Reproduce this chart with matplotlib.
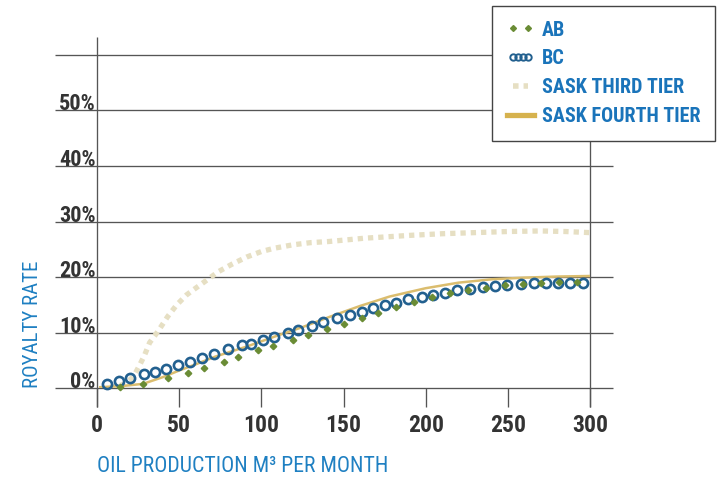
import matplotlib
matplotlib.use('Agg')
import matplotlib.pyplot as plt
import matplotlib.transforms as mtransforms
from matplotlib.lines import Line2D
from matplotlib.legend_handler import HandlerLine2D
from matplotlib import font_manager as fm

# ---------------- data ----------------
bc_x = [6, 13.5, 20, 28.5, 35, 42, 49.5, 56.6, 63.7, 71, 80, 88, 94, 101, 108, 116,
        122.5, 130.6, 137.7, 146, 154, 161, 168, 175, 182, 189.5, 197.6, 204.7, 211.8,
        219, 227, 235, 242, 249.6, 257.8, 266, 273, 280.8, 288, 296]
bc_y = [0.7, 1.4, 1.9, 2.6, 2.9, 3.5, 4.2, 4.8, 5.4, 6.2, 7.0, 7.7, 8.0, 8.6, 9.3, 10.0,
        10.5, 11.2, 12.0, 12.6, 13.2, 13.8, 14.4, 15.0, 15.4, 16.0, 16.4, 16.8, 17.2,
        17.6, 17.9, 18.2, 18.4, 18.6, 18.8, 18.9, 19.0, 19.0, 19.0, 19.0]

ab_x = [14, 28, 43, 55.6, 65, 77, 86, 98, 107, 119, 128.6, 140, 150, 161.5, 171,
        182, 193, 204, 215, 226, 237, 248, 259, 270, 281, 292]
ab_y = [0.3, 0.7, 1.8, 2.8, 3.6, 4.7, 5.7, 6.8, 7.6, 8.7, 9.6, 10.6, 11.5, 12.6, 13.5,
        14.6, 15.6, 16.4, 17.1, 17.7, 18.1, 18.5, 18.8, 19.0, 19.1, 19.2]

t3_x = [8, 14, 18, 21, 23.5, 26, 29, 32, 37, 43, 48.5, 54.5, 60, 67, 74, 82, 91, 100,
        108, 119, 130, 141, 152, 163, 174, 190, 210, 230, 250, 270, 285, 300]
t3_y = [0.2, 0.5, 1.0, 1.8, 2.8, 4.2, 6.0, 8.2, 10.2, 12.9, 15.0, 16.8, 18.0, 19.5,
        21.0, 22.3, 23.6, 24.6, 25.2, 25.8, 26.2, 26.4, 26.7, 27.0, 27.2, 27.5, 27.8,
        28.0, 28.2, 28.3, 28.2, 28.0]

t4_x = [2, 15, 28, 40, 50, 60, 72, 91, 110, 125, 142, 160, 178, 200, 220, 240, 260,
        280, 300]
t4_y = [0.2, 0.4, 0.8, 2.0, 3.2, 4.3, 5.7, 7.5, 9.5, 11.0, 12.9, 14.8, 16.5, 18.0,
        19.0, 19.6, 19.9, 20.1, 20.2]

x_ticks = [0, 50, 100, 150, 200, 250, 300]
x_tick_labels = ['0', '50', '100', '150', '200', '250', '300']
y_ticks = [0, 10, 20, 30, 40, 50]
y_tick_labels = ['0%', '10%', '20%', '30%', '40%', '50%']
grid_levels = [0, 10, 20, 30, 40, 50, 60]
series_labels = ['AB', 'BC', 'SASK THIRD TIER', 'SASK FOURTH TIER']

# ---------------- fonts ----------------
CANDIDATES = ['Roboto Condensed', 'Archivo Narrow', 'PT Sans Narrow', 'Fira Sans Condensed',
              'Barlow Condensed', 'Asap Condensed', 'Encode Sans Condensed']


def _w(f):
    try:
        return int(f.weight)
    except (TypeError, ValueError):
        return {'bold': 700, 'normal': 400, 'regular': 400}.get(str(f.weight).lower(), 400)


def pick(weight):
    for c in CANDIDATES:
        for f in fm.fontManager.ttflist:
            if f.name == c and f.style == 'normal' and _w(f) == weight:
                return c
    return 'DejaVu Sans'


BOLD_FAM = pick(700)
REG_FAM = pick(400)

# ---------------- style ----------------
BC_COLOR = '#22608f'
AB_COLOR = '#6a8c35'
T3_COLOR = '#e6dfc3'
T4_COLOR = '#dbbd6e'
T4_LEG = '#d6b24e'
TXT_BLUE = '#1a74ba'
LBL_BLUE = '#1f80c2'
TICK_TXT = '#333333'
LINE_C = '#555555'

plt.rcParams['font.family'] = [REG_FAM, 'DejaVu Sans']

W, H = 717, 478
fig = plt.figure(figsize=(W / 100, H / 100), dpi=100)
fig.patch.set_facecolor('white')
ax_left, ax_right = 97, 590
ax_bottom, ax_top = 388.3, 54.7
ax = fig.add_axes([ax_left / W, 1 - ax_bottom / H, (ax_right - ax_left) / W,
                   (ax_bottom - ax_top) / H])
ax.set_xlim(0, 300)
ax.set_ylim(0, 60)
for s in ax.spines.values():
    s.set_visible(False)
ax.patch.set_alpha(0)

aw = ax_right - ax_left
ah = ax_bottom - ax_top
th = mtransforms.blended_transform_factory(ax.transAxes, ax.transData)
ax.hlines(grid_levels, (55 - ax_left) / aw, (613 - ax_left) / aw, transform=th,
          colors=LINE_C, lw=0.95, clip_on=False, zorder=1)
tv = mtransforms.blended_transform_factory(ax.transData, ax.transAxes)
ax.vlines([x_ticks[0], x_ticks[-1]], (ax_bottom - 407) / ah, (ax_bottom - 37) / ah,
          transform=tv, colors=LINE_C, lw=0.95, clip_on=False, zorder=1)

# series
ax.plot(t3_x, t3_y, ls=(0, (1, 0.95)), lw=3.8, color=T3_COLOR, zorder=2,
        solid_capstyle='butt', dash_capstyle='butt')
ax.plot(t4_x, t4_y, ls='-', lw=1.8, color=T4_COLOR, zorder=3)
ax.plot(bc_x, bc_y, ls='none', marker='o', ms=6.6, mfc='none', mec=BC_COLOR,
        mew=1.9, zorder=4, clip_on=False)
ax.plot(ab_x, ab_y, ls='none', marker='D', ms=3.3, color=AB_COLOR, zorder=5,
        clip_on=False)

# ticks
ax.set_xticks(x_ticks, labels=x_tick_labels, fontweight='bold', fontsize=17,
              color=TICK_TXT, family=[BOLD_FAM, 'DejaVu Sans'])
ax.tick_params(axis='x', length=13.7, width=0.95, color=LINE_C, pad=5)
ax.set_yticks(y_ticks, labels=y_tick_labels, fontweight='bold', fontsize=16,
              color=TICK_TXT, va='baseline', family=[BOLD_FAM, 'DejaVu Sans'])
ax.tick_params(axis='y', length=0, pad=1)

# axis labels
ax.set_xlabel('OIL PRODUCTION M³ PER MONTH', loc='left', fontsize=15.7,
              color=LBL_BLUE, va='center')
ax.xaxis.set_label_coords(0, (ax_bottom - 466) / ah)
ax.set_ylabel('ROYALTY RATE', loc='bottom', fontsize=15.0, color=LBL_BLUE,
              va='center')
ax.yaxis.set_label_coords((33 - ax_left) / aw, 0)

# legend
ab_h = Line2D([], [], ls='none', marker='D', ms=3.0, color=AB_COLOR)
bc_h = Line2D([], [], ls='none', marker='o', ms=4.6, mfc='none', mec=BC_COLOR, mew=1.4)
t3_h = Line2D([], [], ls=(0, (1, 0.9)), lw=4.0, color=T3_COLOR)
t4_h = Line2D([], [], ls='-', lw=3.8, color=T4_LEG)
leg = ax.legend([ab_h, bc_h, t3_h, t4_h], series_labels, loc='upper left',
                bbox_to_anchor=(492 / W, 1 - 6 / H), bbox_transform=fig.transFigure,
                borderaxespad=0, frameon=True, fancybox=False, edgecolor='#444444',
                framealpha=1, prop={'weight': 'bold', 'size': 14.5,
                                    'family': [BOLD_FAM, 'DejaVu Sans']},
                labelcolor=TXT_BLUE, handlelength=1.35, handletextpad=0.42,
                borderpad=0.72, labelspacing=0.49,
                handler_map={ab_h: HandlerLine2D(numpoints=2),
                             bc_h: HandlerLine2D(numpoints=4),
                             t3_h: HandlerLine2D(numpoints=2)})
leg.get_frame().set_linewidth(1.0)
leg.set_zorder(10)

fig.savefig('out.png', dpi=100, facecolor='white')
